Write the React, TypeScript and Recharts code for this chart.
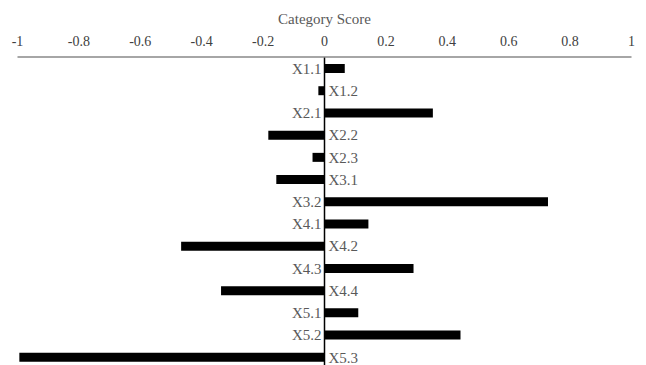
import {
  Bar,
  BarChart,
  LabelList,
  ReferenceLine,
  XAxis,
  YAxis,
} from "recharts";

const categories = [
  "X1.1", "X1.2", "X2.1", "X2.2", "X2.3", "X3.1", "X3.2",
  "X4.1", "X4.2", "X4.3", "X4.4", "X5.1", "X5.2", "X5.3",
];
const scores = [
  0.066, -0.02, 0.353, -0.183, -0.039, -0.157, 0.728,
  0.143, -0.467, 0.29, -0.337, 0.11, 0.443, -0.994,
];
const xTicks = [-1, -0.8, -0.6, -0.4, -0.2, 0, 0.2, 0.4, 0.6, 0.8, 1];

const data = categories.map((name, i) => ({ name, score: scores[i] }));

const FONT = '"Liberation Serif", "Times New Roman", serif';

// label sits beside the zero line, on the side opposite to the bar
function CategoryLabel(props: any) {
  const { x, y, width, height, value, index } = props;
  const positive = scores[index] >= 0;
  const zero = positive ? Math.min(x, x + width) : Math.max(x, x + width);
  return (
    <text
      x={positive ? zero - 3 : zero + 4}
      y={y + height / 2}
      dy="0.35em"
      textAnchor={positive ? "end" : "start"}
      fontSize={15}
      fontFamily={FONT}
      fill="#595959"
    >
      {value}
    </text>
  );
}

export default function App() {
  return (
    <div
      style={{
        position: "absolute",
        left: 0,
        top: 0,
        width: 646,
        height: 365,
        overflow: "hidden",
        background: "#fff",
      }}
    >
      <BarChart
        width={646}
        height={368}
        data={data}
        layout="vertical"
        margin={{ top: 29, right: 14.5, left: 17.5, bottom: 0 }}
        barCategoryGap={0}
      >
        <XAxis
          type="number"
          orientation="top"
          domain={[-1, 1]}
          ticks={xTicks}
          interval={0}
          height={28}
          tickLine={false}
          tickSize={6}
          tickMargin={5}
          axisLine={{ stroke: "#888888", strokeWidth: 1.5 }}
          tick={{ fontSize: 14, fill: "#404040", fontFamily: FONT }}
          tickFormatter={(v: number) => String(v)}
          label={{
            value: "Category Score",
            position: "top",
            offset: 5,
            fontSize: 15,
            fill: "#595959",
            fontFamily: FONT,
          }}
        />
        <YAxis type="category" dataKey="name" hide />
        <ReferenceLine x={0} stroke="#000" strokeWidth={1.5} />
        <Bar dataKey="score" fill="#000" barSize={9} isAnimationActive={false}>
          <LabelList dataKey="name" content={CategoryLabel} />
        </Bar>
      </BarChart>
    </div>
  );
}
